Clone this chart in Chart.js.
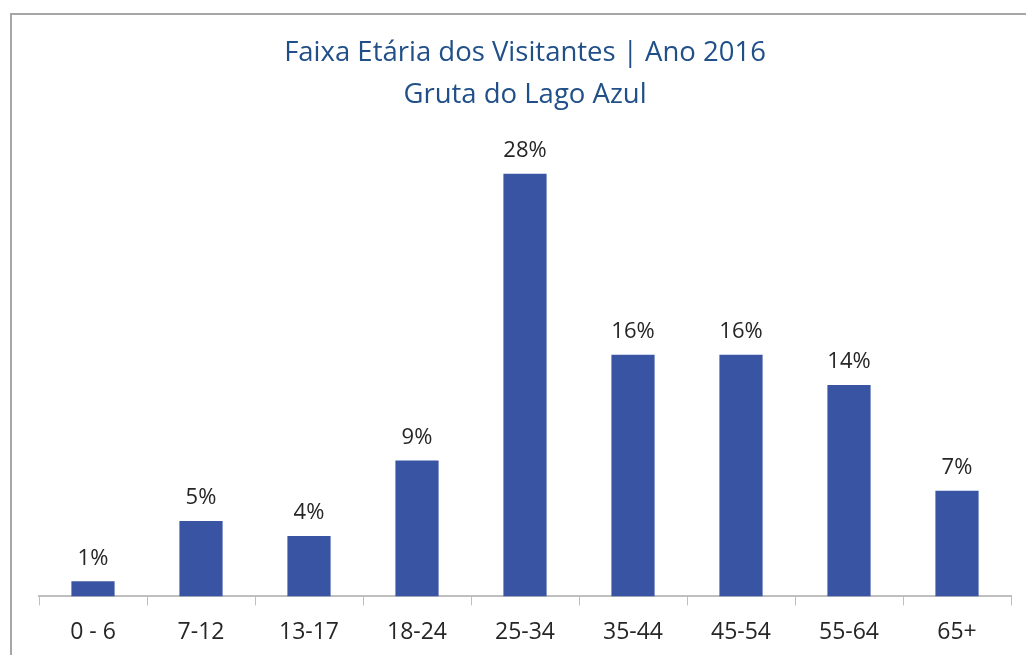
<!DOCTYPE html>
<html>
<head>
<meta charset="utf-8">
<script src="https://cdn.jsdelivr.net/npm/chart.js@4/dist/chart.umd.min.js"></script>
<style>
  html, body { margin: 0; padding: 0; background: #fff; overflow: hidden; }
  #frame { position: absolute; left: 10px; top: 13px; width: 1100px; height: 700px; border-left: 2px solid #a6a6a6; border-top: 2px solid #a6a6a6; }
  #wrap { position: absolute; left: 0; top: 0; width: 1026px; height: 659px; }
</style>
</head>
<body>
<div id="frame"></div>
<div id="wrap"><canvas id="c" width="1026" height="659"></canvas></div>
<script>
const categories = ["0 - 6", "7-12", "13-17", "18-24", "25-34", "35-44", "45-54", "55-64", "65+"];
const values = [1, 5, 4, 9, 28, 16, 16, 14, 7];
const valueLabels = ["1%", "5%", "4%", "9%", "28%", "16%", "16%", "14%", "7%"];
const titleLines = ["Faixa Etária dos Visitantes | Ano 2016", "Gruta do Lago Azul"];

const labelPlugin = {
  id: 'valueLabels',
  afterDatasetsDraw(chart) {
    const ctx = chart.ctx;
    const meta = chart.getDatasetMeta(0);
    ctx.save();
    ctx.font = '22px "Open Sans", sans-serif';
    ctx.fillStyle = '#262626';
    ctx.textAlign = 'center';
    ctx.textBaseline = 'bottom';
    meta.data.forEach((bar, i) => {
      ctx.fillText(valueLabels[i], bar.x, bar.y - 12);
    });
    ctx.restore();
  }
};

new Chart(document.getElementById('c'), {
  type: 'bar',
  data: {
    labels: categories,
    datasets: [{
      data: values,
      backgroundColor: '#3a54a4',
      categoryPercentage: 1,
      barPercentage: 0.4
    }]
  },
  options: {
    responsive: false,
    animation: false,
    devicePixelRatio: 1,
    layout: { padding: { left: 39, right: 15, top: 33, bottom: 0 } },
    plugins: {
      legend: { display: false },
      tooltip: { enabled: false },
      title: {
        display: true,
        text: titleLines,
        color: '#215089',
        font: { family: '"Open Sans", sans-serif', size: 27.5, weight: 'normal', lineHeight: 1.5 },
        padding: { top: 0, bottom: 58 }
      }
    },
    scales: {
      x: {
        grid: { drawOnChartArea: false, drawTicks: true, tickLength: 9, color: '#bfbfbf', offset: true },
        border: { display: true, color: '#bfbfbf', width: 2 },
        ticks: { color: '#262626', font: { family: '"Open Sans", sans-serif', size: 23 }, padding: 13 }
      },
      y: {
        display: false,
        min: 0,
        max: 28
      }
    }
  },
  plugins: [labelPlugin]
});
</script>
</body>
</html>
